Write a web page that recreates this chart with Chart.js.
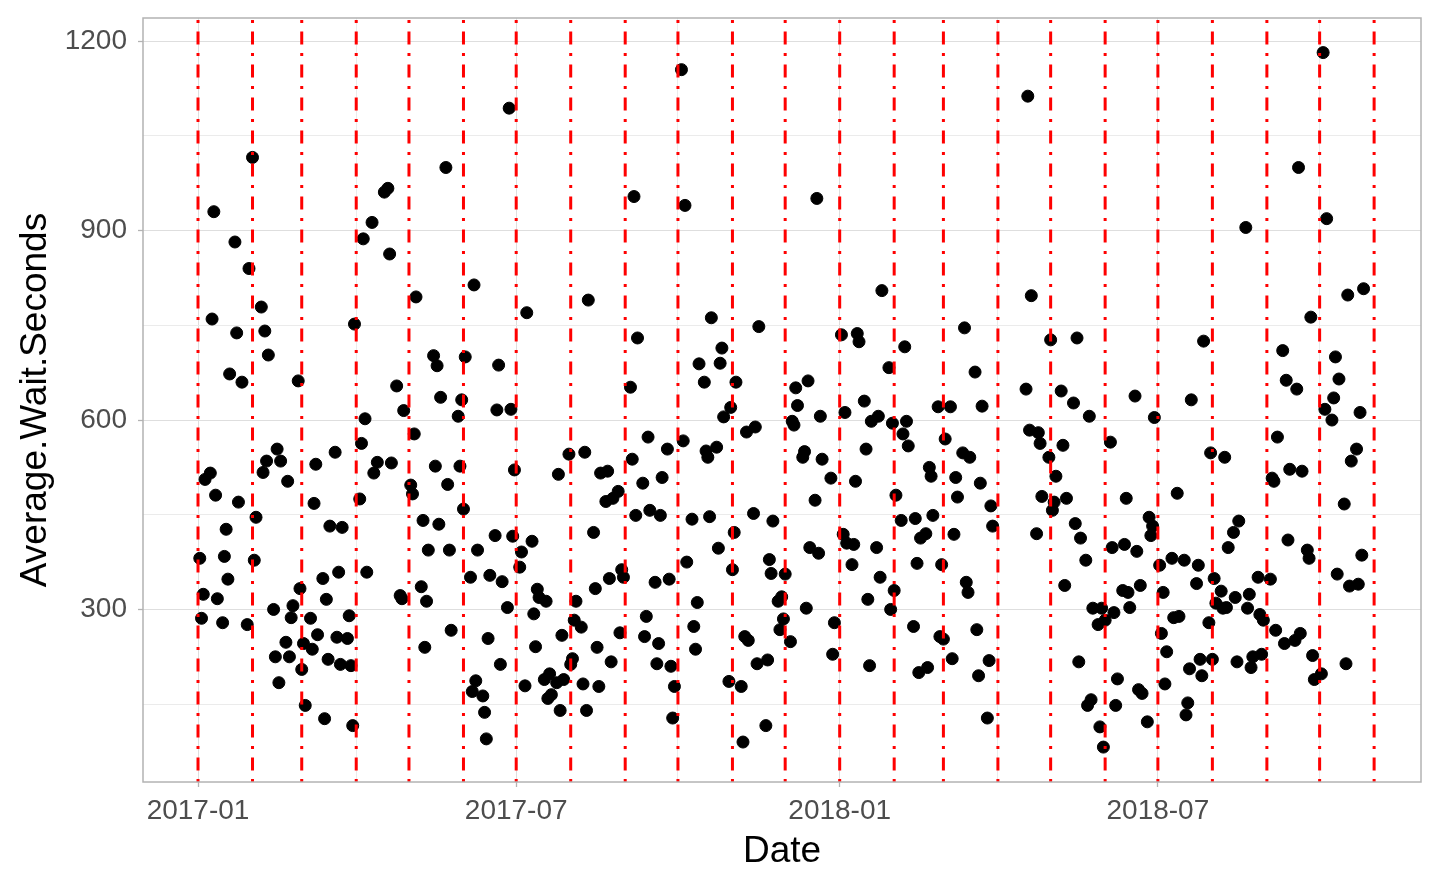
<!DOCTYPE html>
<html>
<head>
<meta charset="utf-8">
<title>Average wait seconds</title>
<script src="https://cdn.jsdelivr.net/npm/chart.js@4.4.0/dist/chart.umd.min.js"></script>
<style>
  html, body { margin: 0; padding: 0; background: #fff; }
  #wrap { width: 1440px; height: 889px; }
</style>
</head>
<body>
<div id="wrap"><canvas id="waitChart"></canvas></div>
<script>
// daily points, grouped by month
const dates = [
  "2017-01-02","2017-01-03","2017-01-04","2017-01-05","2017-01-08","2017-01-09","2017-01-10","2017-01-11","2017-01-12","2017-01-15","2017-01-16","2017-01-17","2017-01-18","2017-01-19","2017-01-22","2017-01-23","2017-01-24","2017-01-26","2017-01-29","2017-01-30",
  "2017-02-01","2017-02-02","2017-02-03","2017-02-06","2017-02-07","2017-02-08","2017-02-09","2017-02-10","2017-02-13","2017-02-14","2017-02-15","2017-02-16","2017-02-17","2017-02-20","2017-02-21","2017-02-22","2017-02-23","2017-02-24","2017-02-27","2017-02-28",
  "2017-03-01","2017-03-02","2017-03-03","2017-03-06","2017-03-07","2017-03-08","2017-03-09","2017-03-10","2017-03-13","2017-03-14","2017-03-15","2017-03-16","2017-03-17","2017-03-20","2017-03-21","2017-03-22","2017-03-23","2017-03-24","2017-03-27","2017-03-28","2017-03-29","2017-03-30","2017-03-31",
  "2017-04-03","2017-04-04","2017-04-05","2017-04-06","2017-04-07","2017-04-10","2017-04-11","2017-04-13","2017-04-17","2017-04-19","2017-04-20","2017-04-21","2017-04-24","2017-04-26","2017-04-27","2017-04-28",
  "2017-05-02","2017-05-03","2017-05-04","2017-05-05","2017-05-08","2017-05-09","2017-05-10","2017-05-11","2017-05-12","2017-05-15","2017-05-16","2017-05-17","2017-05-18","2017-05-19","2017-05-22","2017-05-23","2017-05-24","2017-05-25","2017-05-29","2017-05-30","2017-05-31",
  "2017-06-01","2017-06-02","2017-06-05","2017-06-06","2017-06-07","2017-06-08","2017-06-09","2017-06-12","2017-06-13","2017-06-14","2017-06-15","2017-06-16","2017-06-19","2017-06-20","2017-06-21","2017-06-22","2017-06-23","2017-06-26","2017-06-27","2017-06-28","2017-06-29","2017-06-30",
  "2017-07-03","2017-07-04","2017-07-06","2017-07-07","2017-07-10","2017-07-11","2017-07-12","2017-07-13","2017-07-14","2017-07-17","2017-07-18","2017-07-19","2017-07-20","2017-07-21","2017-07-24","2017-07-25","2017-07-26","2017-07-27","2017-07-28","2017-07-31",
  "2017-08-01","2017-08-02","2017-08-03","2017-08-04","2017-08-07","2017-08-08","2017-08-09","2017-08-10","2017-08-11","2017-08-14","2017-08-15","2017-08-16","2017-08-17","2017-08-18","2017-08-21","2017-08-22","2017-08-23","2017-08-24","2017-08-25","2017-08-28","2017-08-29","2017-08-30","2017-08-31",
  "2017-09-04","2017-09-05","2017-09-06","2017-09-07","2017-09-08","2017-09-11","2017-09-12","2017-09-13","2017-09-14","2017-09-15","2017-09-18","2017-09-19","2017-09-20","2017-09-21","2017-09-22","2017-09-25","2017-09-26","2017-09-27","2017-09-28","2017-09-29",
  "2017-10-03","2017-10-04","2017-10-05","2017-10-06","2017-10-09","2017-10-10","2017-10-11","2017-10-12","2017-10-13","2017-10-16","2017-10-17","2017-10-18","2017-10-19","2017-10-20","2017-10-23","2017-10-24","2017-10-25","2017-10-26","2017-10-27","2017-10-30","2017-10-31",
  "2017-11-01","2017-11-02","2017-11-03","2017-11-06","2017-11-07","2017-11-08","2017-11-09","2017-11-10","2017-11-13","2017-11-14","2017-11-15","2017-11-16","2017-11-20","2017-11-21","2017-11-22","2017-11-23","2017-11-24","2017-11-27","2017-11-28","2017-11-29","2017-11-30",
  "2017-12-01","2017-12-04","2017-12-05","2017-12-06","2017-12-07","2017-12-08","2017-12-11","2017-12-12","2017-12-13","2017-12-14","2017-12-15","2017-12-18","2017-12-19","2017-12-20","2017-12-21","2017-12-22","2017-12-27","2017-12-28","2017-12-29",
  "2018-01-02","2018-01-03","2018-01-04","2018-01-05","2018-01-08","2018-01-09","2018-01-10","2018-01-11","2018-01-12","2018-01-15","2018-01-16","2018-01-17","2018-01-18","2018-01-19","2018-01-22","2018-01-23","2018-01-24","2018-01-25","2018-01-29","2018-01-30","2018-01-31",
  "2018-02-01","2018-02-02","2018-02-05","2018-02-06","2018-02-07","2018-02-08","2018-02-09","2018-02-12","2018-02-13","2018-02-14","2018-02-15","2018-02-16","2018-02-19","2018-02-20","2018-02-21","2018-02-22","2018-02-23","2018-02-26","2018-02-27","2018-02-28",
  "2018-03-01","2018-03-02","2018-03-05","2018-03-06","2018-03-07","2018-03-08","2018-03-09","2018-03-12","2018-03-13","2018-03-14","2018-03-15","2018-03-16","2018-03-19","2018-03-20","2018-03-21","2018-03-22","2018-03-23","2018-03-26","2018-03-27","2018-03-28","2018-03-29",
  "2018-04-17","2018-04-18","2018-04-19","2018-04-20","2018-04-23","2018-04-24","2018-04-25","2018-04-26","2018-04-30",
  "2018-05-01","2018-05-02","2018-05-03","2018-05-04","2018-05-07","2018-05-08","2018-05-09","2018-05-10","2018-05-14","2018-05-15","2018-05-16","2018-05-17","2018-05-18","2018-05-21","2018-05-22","2018-05-23","2018-05-24","2018-05-25","2018-05-28","2018-05-29","2018-05-30","2018-05-31",
  "2018-06-01","2018-06-04","2018-06-05","2018-06-06","2018-06-07","2018-06-08","2018-06-11","2018-06-12","2018-06-13","2018-06-14","2018-06-15","2018-06-18","2018-06-19","2018-06-20","2018-06-21","2018-06-22","2018-06-25","2018-06-26","2018-06-27","2018-06-28","2018-06-29",
  "2018-07-02","2018-07-03","2018-07-04","2018-07-05","2018-07-06","2018-07-09","2018-07-10","2018-07-12","2018-07-13","2018-07-16","2018-07-17","2018-07-18","2018-07-19","2018-07-20","2018-07-23","2018-07-24","2018-07-25","2018-07-26","2018-07-27","2018-07-30","2018-07-31",
  "2018-08-01","2018-08-02","2018-08-03","2018-08-06","2018-08-07","2018-08-08","2018-08-09","2018-08-10","2018-08-13","2018-08-14","2018-08-15","2018-08-16","2018-08-20","2018-08-21","2018-08-22","2018-08-23","2018-08-24","2018-08-27","2018-08-28","2018-08-29","2018-08-30",
  "2018-09-03","2018-09-04","2018-09-05","2018-09-06","2018-09-07","2018-09-10","2018-09-11","2018-09-12","2018-09-13","2018-09-14","2018-09-17","2018-09-18","2018-09-19","2018-09-20","2018-09-21","2018-09-24","2018-09-25","2018-09-26","2018-09-27","2018-09-28",
  "2018-10-02","2018-10-03","2018-10-04","2018-10-05","2018-10-08","2018-10-09","2018-10-10","2018-10-11","2018-10-12","2018-10-15","2018-10-16","2018-10-17","2018-10-18","2018-10-19","2018-10-22","2018-10-23","2018-10-24","2018-10-25","2018-10-26"
];

const waits = [
  381,286,324,506,516,760,930,481,317,279,384,427,348,673,882,738,470,660,276,840,
  1016,378,446,779,517,741,535,703,300,225,554,184,535,248,503,225,287,306,662,333,
  205,246,148,286,237,468,530,260,349,127,316,221,432,549,256,359,213,430,254,290,211,116,752,
  475,563,887,602,359,913,516,533,961,967,863,532,654,322,317,615,
  497,483,578,795,336,441,240,313,394,702,527,686,435,636,1000,498,394,267,606,527,632,
  459,700,351,170,814,187,394,163,137,95,254,354,417,616,687,213,344,303,1094,617,416,521,
  367,391,179,770,408,293,241,332,319,189,313,159,198,165,184,514,140,259,189,546,
  213,222,283,313,272,182,549,140,790,422,333,240,178,516,471,519,349,217,476,487,263,363,351,
  652,538,954,449,730,500,257,289,573,457,343,214,246,449,509,554,348,210,128,178,
  1155,567,940,375,443,273,237,311,689,660,551,541,447,762,557,397,690,714,605,186,620,
  363,422,660,178,90,257,581,251,452,589,214,748,116,220,379,357,440,313,268,320,285,
  356,249,598,592,651,623,541,550,302,662,398,473,951,389,606,538,508,229,279,
  735,419,612,405,371,403,503,737,724,630,554,316,211,598,398,606,351,805,683,300,595,
  330,481,441,578,716,598,559,273,444,373,200,413,420,208,525,511,449,621,257,371,
  253,570,621,222,419,509,478,548,746,343,327,541,676,268,195,500,622,128,219,464,432,
  649,1113,584,797,420,580,563,479,541,
  727,457,470,511,646,560,338,476,627,436,730,217,413,378,148,606,157,302,276,114,302,82,
  283,565,398,295,148,190,330,403,476,327,303,638,392,173,338,167,122,446,417,432,604,
  370,262,327,182,233,381,287,484,289,378,133,152,206,632,341,370,221,195,725,279,548,
  221,349,310,329,302,541,303,398,422,319,217,440,905,302,324,208,225,351,292,229,283,
  348,508,503,267,573,710,246,663,410,522,251,649,1000,262,519,394,381,763,227,189,
  198,1182,617,919,600,635,700,356,665,467,214,798,337,535,554,340,612,386,808
];

// red dot-dash markers at each month start
const monthLines = [
  "2017-01-01","2017-02-01","2017-03-01","2017-04-01","2017-05-01","2017-06-01",
  "2017-07-01","2017-08-01","2017-09-01","2017-10-01","2017-11-01","2017-12-01",
  "2018-01-01","2018-02-01","2018-03-01","2018-04-01","2018-05-01","2018-06-01",
  "2018-07-01","2018-08-01","2018-09-01","2018-10-01","2018-11-01"
];

const xTicks = ["2017-01-01", "2017-07-01", "2018-01-01", "2018-07-01"];
const xMinorTicks = ["2017-04-01", "2017-10-01", "2018-04-01", "2018-10-01"];
const yTicks = [300, 600, 900, 1200];
const yMinorTicks = [150, 450, 750, 1050];

const X_MIN = "2016-11-30T17:00:00Z";
const X_MAX = "2018-11-27T16:00:00Z";
const Y_MIN = 26.7;
const Y_MAX = 1236.8;

const toTime = s => Date.parse(s.length === 10 ? s + "T00:00:00Z" : s);

const FONT = "'Liberation Sans', Arial, sans-serif";
Chart.defaults.font.family = FONT;

const points = dates.map((d, i) => ({ x: toTime(d), y: waits[i] }));

const vlineSets = monthLines.map(d => ({
  type: "line",
  data: [{ x: toTime(d), y: Y_MIN }, { x: toTime(d), y: Y_MAX }],
  borderColor: "#ff0000",
  borderWidth: 3,
  borderDash: [3, 8.5, 13, 8.5],
  borderCapStyle: "butt",
  pointRadius: 0,
  fill: false,
  order: 0
}));

const majorX = xTicks.map(toTime);
const isMajorY = v => yTicks.includes(v);

const panelBorder = {
  id: "panelBorder",
  afterDraw(chart) {
    const { ctx, chartArea: a } = chart;
    ctx.save();
    ctx.strokeStyle = "#b3b3b3";
    ctx.lineWidth = 1.5;
    ctx.strokeRect(a.left, a.top, a.right - a.left, a.bottom - a.top);
    ctx.restore();
  }
};

new Chart(document.getElementById("waitChart"), {
  type: "scatter",
  data: {
    datasets: [
      {
        data: points,
        pointRadius: 6,
        pointBorderWidth: 1,
        pointBackgroundColor: "#000",
        pointBorderColor: "#000",
        order: 1
      },
      ...vlineSets
    ]
  },
  options: {
    responsive: true,
    maintainAspectRatio: false,
    animation: false,
    events: [],
    layout: { padding: { top: 18, right: 19, left: 0, bottom: 0 } },
    plugins: { legend: { display: false }, tooltip: { enabled: false } },
    scales: {
      x: {
        type: "linear",
        min: toTime(X_MIN),
        max: toTime(X_MAX),
        afterBuildTicks: s => {
          s.ticks = [...xTicks, ...xMinorTicks].map(toTime).sort((a, b) => a - b).map(v => ({ value: v }));
        },
        afterFit: s => {
          s.height = 107;
          s.paddingLeft = 0;
          s.paddingRight = 0;
        },
        ticks: {
          autoSkip: false,
          maxRotation: 0,
          padding: 7,
          color: "#4d4d4d",
          font: { size: 28 },
          callback: v => majorX.includes(v) ? new Date(v).toISOString().slice(0, 7) : ""
        },
        grid: {
          color: c => majorX.includes(c.tick.value) ? "#dedede" : "#ebebeb",
          lineWidth: 1,
          tickLength: 5,
          tickWidth: 1.3,
          tickColor: c => majorX.includes(c.tick.value) ? "#b3b3b3" : "rgba(0,0,0,0)"
        },
        border: { display: false },
        title: {
          display: true,
          text: "Date",
          color: "#000",
          font: { size: 37, lineHeight: 1 },
          padding: { top: 0, bottom: 19 }
        }
      },
      y: {
        type: "linear",
        min: Y_MIN,
        max: Y_MAX,
        afterBuildTicks: s => {
          s.ticks = [...yMinorTicks, ...yTicks].sort((a, b) => a - b).map(v => ({ value: v }));
        },
        afterFit: s => {
          s.width = 143;
          s.paddingTop = 0;
          s.paddingBottom = 0;
        },
        ticks: {
          padding: 11,
          color: "#4d4d4d",
          font: { size: 28 },
          callback: v => isMajorY(v) ? String(v) : ""
        },
        grid: {
          color: c => isMajorY(c.tick.value) ? "#dedede" : "#ebebeb",
          lineWidth: 1,
          tickLength: 5,
          tickWidth: 1.3,
          tickColor: c => isMajorY(c.tick.value) ? "#b3b3b3" : "rgba(0,0,0,0)"
        },
        border: { display: false },
        title: {
          display: true,
          text: "Average.Wait.Seconds",
          color: "#000",
          font: { size: 37, lineHeight: 1 },
          padding: { top: 17, bottom: 0 }
        }
      }
    }
  },
  plugins: [panelBorder]
});
</script>
</body>
</html>
